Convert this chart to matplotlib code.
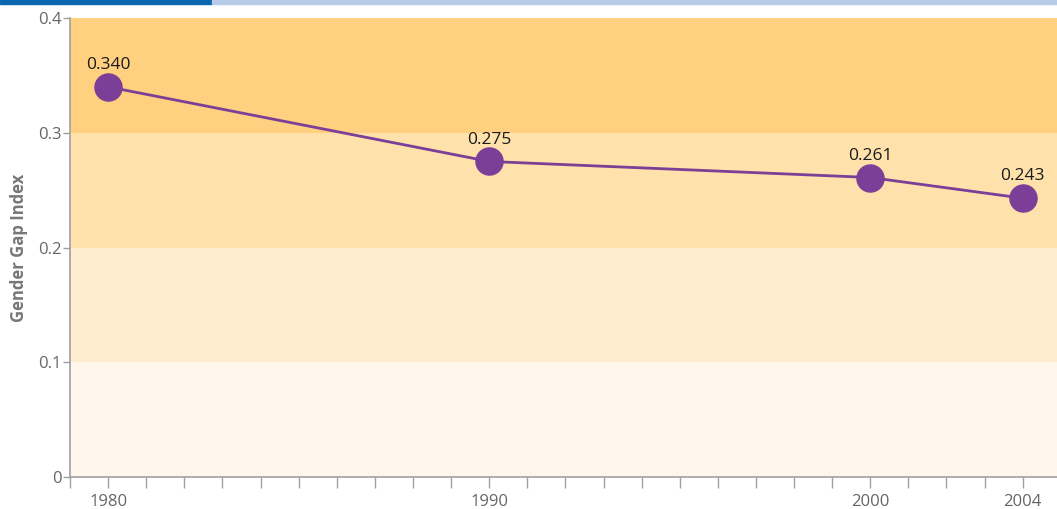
import matplotlib
matplotlib.use("Agg")
import matplotlib.pyplot as plt
from matplotlib.patches import Rectangle

plt.rcParams['font.family'] = ['Open Sans', 'DejaVu Sans']

years = [1980, 1990, 2000, 2004]
gap_index = [0.340, 0.275, 0.261, 0.243]
value_labels = ['0.340', '0.275', '0.261', '0.243']
band_edges = [0.0, 0.1, 0.2, 0.3, 0.4]
band_colors = ['#fff7ec', '#ffedd0', '#ffe1ab', '#ffd07f']
y_ticks = [0, 0.1, 0.2, 0.3, 0.4]
y_tick_labels = ['0', '0.1', '0.2', '0.3', '0.4']

W, H = 1057, 509
fig = plt.figure(figsize=(W / 100, H / 100), dpi=100)

# strip along the top edge
fig.patches.append(Rectangle((0, 1 - 4 / H), 212 / W, 4 / H, transform=fig.transFigure,
                             color='#0a66b0', zorder=5))
fig.patches.append(Rectangle((212 / W, 1 - 4 / H), 1 - 212 / W, 4 / H,
                             transform=fig.transFigure, color='#b8cbe8', zorder=5))

ax = fig.add_axes([70 / W, 32 / H, 1 - 70 / W, (477 - 18) / H])
ax.set_xlim(1979, 2004.9)
ax.set_ylim(0, 0.4)

for lo, hi, c in zip(band_edges[:-1], band_edges[1:], band_colors):
    ax.axhspan(lo, hi, color=c, lw=0, zorder=0)

ax.plot(years, gap_index, color='#7b3f98', lw=2, zorder=2)
ax.plot(years, gap_index, 'o', ms=19.5, color='#7b3f98', mec='#7b3f98', zorder=3)
for x, y, s in zip(years, gap_index, value_labels):
    ax.annotate(s, (x, y), xytext=(0, 10), textcoords='offset points', ha='center',
                va='bottom', fontsize=12.5, color='#1a1a1a')

for side in ['top', 'right']:
    ax.spines[side].set_visible(False)
for side in ['left', 'bottom']:
    ax.spines[side].set_color('#a0a0a0')
    ax.spines[side].set_linewidth(1.2)

ax.set_xticks(years)
ax.set_xticklabels([str(y) for y in years])
ax.set_xticks(range(1979, 2005), minor=True)
ax.tick_params(axis='x', which='both', length=8, width=1, color='#a0a0a0',
               labelsize=12, labelcolor='#666666', pad=4)
ax.set_yticks(y_ticks)
ax.set_yticklabels(y_tick_labels)
ax.tick_params(axis='y', length=5, width=1, color='#a0a0a0', labelsize=12,
               labelcolor='#666666', pad=1)
ax.set_ylabel('Gender Gap Index', fontsize=12, fontweight='bold', color='#777777',
              labelpad=7)

fig.savefig('out.png', dpi=100)
